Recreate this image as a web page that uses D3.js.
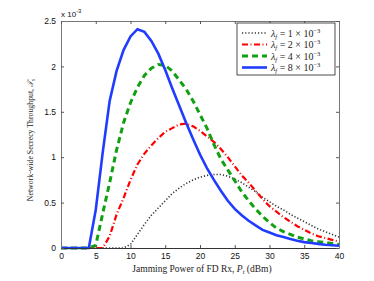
<!DOCTYPE html>
<html>
<head>
<meta charset="utf-8">
<script src="https://cdn.jsdelivr.net/npm/d3@7"></script>
<style>
  body { margin: 0; background: #fff; }
  .tick text { font-family: "Liberation Sans", Arial, sans-serif; font-size: 8.5px; fill: #111; }
  .lbl { font-family: "Liberation Serif", "DejaVu Serif", serif; fill: #222; }
</style>
</head>
<body>
<div id="chart"></div>
<script>
// jamming power (dBm)
const powerDbm = d3.range(0, 41);
// secrecy throughput (x 1e-3) for each lambda_f
const tp1 = [0,0,0,0,0,0,0,0,0,0, 0.04,0.15,0.26,0.36,0.44,0.52,0.6,0.66,0.71,0.75, 0.78,0.8,0.81,0.81,0.79,0.76,0.72,0.67,0.62,0.56, 0.51,0.46,0.42,0.37,0.33,0.29,0.25,0.21,0.18,0.15, 0.12];
const tp2 = [0,0,0,0,0,0,0, 0.13,0.37,0.55,0.75,0.92,1.04,1.13,1.21,1.28,1.32,1.36,1.37,1.34, 1.29,1.23,1.17,1.09,1.0,0.9,0.8,0.72,0.63,0.54, 0.46,0.4,0.34,0.29,0.24,0.2,0.16,0.13,0.11,0.09, 0.07];
const tp4 = [0,0,0,0,0, 0.03,0.38,0.72,1.08,1.38,1.6,1.77,1.9,1.98,2.02,2.01,1.95,1.85,1.75,1.62, 1.47,1.32,1.14,0.98,0.86,0.74,0.62,0.52,0.43,0.35, 0.28,0.22,0.18,0.15,0.12,0.1,0.08,0.07,0.06,0.05, 0.04];
const tp8 = [0,0,0,0,0, 0.42,1.05,1.62,1.95,2.18,2.33,2.41,2.38,2.28,2.14,1.96,1.76,1.57,1.38,1.2, 1.03,0.88,0.75,0.63,0.52,0.43,0.36,0.3,0.25,0.2, 0.17,0.14,0.12,0.1,0.08,0.065,0.055,0.045,0.035,0.03, 0.025];
const legendNums = ["1", "2", "4", "8"];
const xTicks = [0, 5, 10, 15, 20, 25, 30, 35, 40];
const yTicks = [0, 0.5, 1, 1.5, 2, 2.5];

const series = [
  { vals: tp1, color: "#333", width: 1.6, dash: "1.2,2" },
  { vals: tp2, color: "#ff0000", width: 2.2, dash: "6,2.5,1,2.5" },
  { vals: tp4, color: "#11a011", width: 3, dash: "6,4" },
  { vals: tp8, color: "#1f3cff", width: 2.6, dash: null }
];

const W = 374, H = 281;
const margin = { top: 21, right: 35, bottom: 33, left: 61 };
const width = W - margin.left - margin.right;
const height = H - margin.top - margin.bottom;

const svg = d3.select("#chart").append("svg")
  .attr("width", W).attr("height", H);
const g = svg.append("g")
  .attr("transform", "translate(" + margin.left + "," + margin.top + ")");

const x = d3.scaleLinear().domain([0, 40]).range([0, width]);
const y = d3.scaleLinear().domain([0, 2.5]).range([height, 0]);

const line = d3.line().x((d, i) => x(powerDbm[i])).y(d => y(d));
series.forEach(s => {
  g.append("path").datum(s.vals)
    .attr("fill", "none")
    .attr("stroke", s.color)
    .attr("stroke-width", s.width)
    .attr("stroke-dasharray", s.dash)
    .attr("d", line);
});

// axes, ticks pointing inward
function styleAxis(sel) {
  sel.select(".domain").attr("stroke", "#777");
  sel.selectAll(".tick line").attr("stroke", "#555");
}
g.append("g").attr("transform", "translate(0," + height + ")")
  .call(d3.axisBottom(x).tickValues(xTicks).tickSizeInner(-3).tickSizeOuter(0).tickPadding(5))
  .call(styleAxis).call(a => a.select(".domain").attr("stroke", "#333"));
g.append("g")
  .call(d3.axisLeft(y).tickValues(yTicks).tickFormat(d3.format("")).tickSizeInner(-3).tickSizeOuter(0).tickPadding(5))
  .call(styleAxis);
g.append("g")
  .call(d3.axisTop(x).tickValues(xTicks).tickFormat("").tickSizeInner(-3).tickSizeOuter(0))
  .call(styleAxis);
g.append("g").attr("transform", "translate(" + width + ",0)")
  .call(d3.axisRight(y).tickValues(yTicks).tickFormat("").tickSizeInner(-3).tickSizeOuter(0))
  .call(styleAxis);

// exponent
const ex = svg.append("text").attr("x", margin.left).attr("y", margin.top - 4)
  .style("font-family", "Liberation Sans, Arial, sans-serif").style("font-size", "8px").attr("fill", "#111");
ex.append("tspan").text("x 10");
ex.append("tspan").attr("dy", -4).style("font-size", "6px").text("-3");

// axis labels
const xl = svg.append("text").attr("class", "lbl").style("font-size", "9.5px")
  .attr("x", margin.left + width / 2 + 2).attr("y", H - 9).attr("text-anchor", "middle");
xl.append("tspan").text("Jamming Power of FD Rx, ");
xl.append("tspan").style("font-style", "italic").text("P");
xl.append("tspan").attr("dy", 2).style("font-size", "6.5px").style("font-style", "italic").text("t");
xl.append("tspan").attr("dy", -2).text(" (dBm)");

const yl = svg.append("text").attr("class", "lbl").style("font-size", "7.8px")
  .attr("transform", "translate(33,140) rotate(-90)")
  .attr("text-anchor", "middle");
yl.append("tspan").text("Network-wide Secrecy Throughput, ");
yl.append("tspan").style("font-style", "italic").text("\u{1D4AF}");
yl.append("tspan").attr("dy", 1.5).style("font-size", "5.5px").style("font-style", "italic").text("s");

// legend
const lg = svg.append("g").attr("transform", "translate(237,23)");
lg.append("rect").attr("width", 98).attr("height", 52)
  .attr("fill", "#fff").attr("stroke", "#222").attr("stroke-width", 0.8);
series.forEach((s, i) => {
  const yy = 10 + i * 11.5;
  lg.append("line").attr("x1", 5).attr("x2", 30).attr("y1", yy).attr("y2", yy)
    .attr("stroke", s.color).attr("stroke-width", s.width)
    .attr("stroke-dasharray", s.dash);
  const t = lg.append("text").attr("class", "lbl").style("font-size", "10px")
    .attr("x", 34).attr("y", yy + 3.5);
  t.append("tspan").style("font-style", "italic").text("λ");
  t.append("tspan").attr("dy", 2).style("font-size", "6.5px").style("font-style", "italic").text("f");
  t.append("tspan").attr("dy", -2).text(" = " + legendNums[i] + " × 10");
  t.append("tspan").attr("dy", -4).style("font-size", "6.5px").text("−3");
});
</script>
</body>
</html>
